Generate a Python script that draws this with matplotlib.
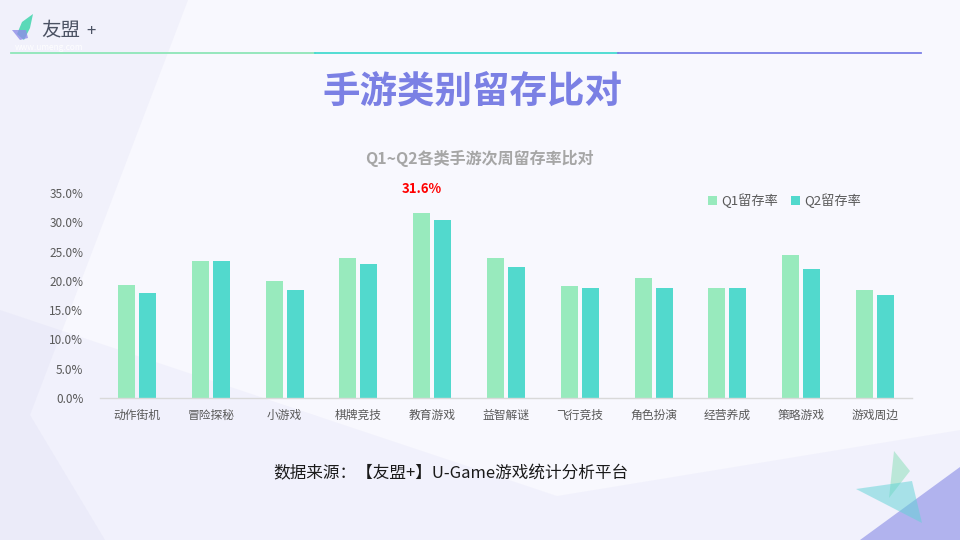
import matplotlib
matplotlib.use("Agg")
import matplotlib.pyplot as plt
from matplotlib.patches import Polygon
import numpy as np

plt.rcParams['font.family'] = ['Noto Sans CJK SC', 'DejaVu Sans']

categories = ['动作街机', '冒险探秘', '小游戏', '棋牌竞技', '教育游戏', '益智解谜',
              '飞行竞技', '角色扮演', '经营养成', '策略游戏', '游戏周边']
q1 = [19.3, 23.4, 20.0, 23.9, 31.6, 23.9, 19.2, 20.5, 18.8, 24.5, 18.5]
q2 = [18.0, 23.4, 18.5, 22.9, 30.4, 22.4, 18.7, 18.8, 18.7, 22.1, 17.6]
series_names = ['Q1留存率', 'Q2留存率']
yticks = [0, 5, 10, 15, 20, 25, 30, 35]

c_q1 = '#98eabd'
c_q2 = '#52d9cd'

fig = plt.figure(figsize=(9.6, 5.4), dpi=100, facecolor='#f8f8fe')

# background decoration (pixel coordinates)
bg = fig.add_axes([0, 0, 1, 1], zorder=-5)
bg.set_xlim(0, 960)
bg.set_ylim(540, 0)
bg.axis('off')
bg.add_patch(Polygon([(0, 0), (188, 0), (30, 415), (105, 540), (0, 540)],
                     closed=True, color='#f1f1fb', lw=0))
bg.add_patch(Polygon([(0, 310), (557, 496), (960, 430), (960, 540), (0, 540)],
                     closed=True, color='#5a5ad0', alpha=0.04, lw=0))
bg.add_patch(Polygon([(860, 540), (960, 467), (960, 540)], closed=True,
                     color='#b1b3ee', lw=0))
bg.add_patch(Polygon([(894, 451), (910, 471), (889, 498)], closed=True,
                     color='#8fe0bb', alpha=0.55, lw=0))
bg.add_patch(Polygon([(856, 489), (912, 481), (922, 523)], closed=True,
                     color='#5fd3d6', alpha=0.5, lw=0))
# header line
bg.plot([11, 315], [53, 53], color='#8ee6b8', lw=1.3)
bg.plot([315, 618], [53, 53], color='#45dbd0', lw=1.3)
bg.plot([618, 921], [53, 53], color='#7b7fe6', lw=1.3)
# logo
bg.add_patch(Polygon([(33, 14), (22, 22), (17, 34), (24, 40), (30, 28)], closed=True,
                     color='#5bd9b8', lw=0))
bg.add_patch(Polygon([(12, 30), (26, 30), (28, 38), (20, 40)], closed=True,
                     color='#8f8de8', alpha=0.8, lw=0))
bg.text(41, 30, '友盟', fontsize=14, color='#4b5263', va='center', ha='left')
bg.text(86, 32, '+', fontsize=12, color='#4b5263', va='center', ha='left')
bg.text(15, 47, 'www.umeng.com', fontsize=6, color='#ffffff', va='center', ha='left',
        alpha=0.9)

# titles
fig.text(472 / 960, 1 - 92 / 540, '手游类别留存比对', fontsize=27, fontweight='bold',
         color='#7b80e4', ha='center', va='center')
fig.text(479 / 960, 1 - 158 / 540, 'Q1~Q2各类手游次周留存率比对', fontsize=11.5,
         fontweight='bold', color='#a6a6a6', ha='center', va='center')
fig.text(451 / 960, 1 - 474 / 540, '数据来源：【友盟+】U-Game游戏统计分析平台',
         fontsize=12, color='#1a1a1a', ha='center', va='center')

# chart
ax = fig.add_axes([100 / 960, 142 / 540, 812 / 960, 205 / 540])
ax.set_facecolor('none')
x = np.arange(len(categories))
w = 0.23
off = 0.142
b1 = ax.bar(x - off, q1, w, color=c_q1, label=series_names[0])
b2 = ax.bar(x + off, q2, w, color=c_q2, label=series_names[1])

ax.set_xlim(-0.5, len(categories) - 0.5)
ax.set_ylim(0, 35)
ax.set_yticks(yticks)
ax.set_yticklabels([f'{v:.1f}%' for v in yticks])
ax.set_xticks(x)
ax.set_xticklabels(categories)
ax.tick_params(axis='both', length=0, labelsize=8.5, labelcolor='#595959')
ax.tick_params(axis='y', pad=12)
ax.tick_params(axis='x', pad=8)
for s in ['top', 'right', 'left']:
    ax.spines[s].set_visible(False)
ax.spines['bottom'].set_color('#d9d9d9')
ax.spines['bottom'].set_linewidth(1)

imax = int(np.argmax(q1))
ax.annotate(f'{q1[imax]:.1f}%', (x[imax] - off, q1[imax]), xytext=(0, 17),
            textcoords='offset points', ha='center', va='center', fontsize=9.5,
            fontweight='bold', color='#ff0000')

ax.legend(loc='center left', bbox_to_anchor=(696 / 960, 1 - 201 / 540),
          bbox_transform=fig.transFigure, ncol=2, frameon=False, fontsize=9.5,
          handlelength=0.7, handleheight=0.7, handletextpad=0.3, columnspacing=1.0,
          labelcolor='#595959')

fig.savefig('out.png', dpi=100, facecolor=fig.get_facecolor())
